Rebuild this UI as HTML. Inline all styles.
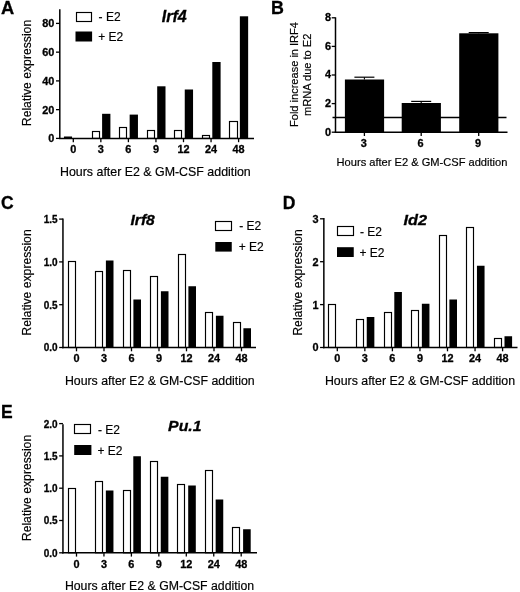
<!DOCTYPE html>
<html><head><meta charset="utf-8"><title>Figure</title>
<style>
html,body{margin:0;padding:0;background:#fff;}
svg{display:block;font-family:"Liberation Sans", Arial, Helvetica, sans-serif;}
text{fill:#000;}
</style></head>
<body>
<svg width="520" height="592" viewBox="0 0 520 592">
<rect x="0" y="0" width="520" height="592" fill="#fff"/>
<text x="1.00" y="13.80" font-size="17.5" text-anchor="start" font-weight="bold" font-style="normal" textLength="13.20" lengthAdjust="spacingAndGlyphs" stroke="#000" stroke-width="0.3">A</text>
<rect x="63.95" y="136.50" width="8.10" height="1.90" fill="#000"/>
<rect x="92.50" y="131.50" width="7.00" height="6.90" fill="#fff" stroke="#000" stroke-width="1.15"/>
<rect x="102.10" y="113.80" width="8.30" height="24.60" fill="#000"/>
<rect x="119.50" y="127.50" width="7.00" height="10.90" fill="#fff" stroke="#000" stroke-width="1.15"/>
<rect x="129.65" y="114.60" width="8.30" height="23.80" fill="#000"/>
<rect x="147.50" y="130.50" width="7.00" height="7.90" fill="#fff" stroke="#000" stroke-width="1.15"/>
<rect x="157.20" y="86.30" width="8.30" height="52.10" fill="#000"/>
<rect x="174.50" y="130.50" width="7.00" height="7.90" fill="#fff" stroke="#000" stroke-width="1.15"/>
<rect x="184.75" y="89.50" width="8.30" height="48.90" fill="#000"/>
<rect x="202.50" y="135.50" width="7.00" height="2.90" fill="#fff" stroke="#000" stroke-width="1.15"/>
<rect x="212.30" y="62.00" width="8.30" height="76.40" fill="#000"/>
<rect x="229.50" y="121.50" width="8.00" height="16.90" fill="#fff" stroke="#000" stroke-width="1.15"/>
<rect x="239.85" y="16.30" width="8.30" height="122.10" fill="#000"/>
<line x1="59.80" y1="9.35" x2="59.80" y2="139.10" stroke="#000" stroke-width="1.5"/>
<line x1="59.10" y1="138.40" x2="254.00" y2="138.40" stroke="#000" stroke-width="1.5"/>
<line x1="56.00" y1="138.40" x2="59.80" y2="138.40" stroke="#000" stroke-width="1.3"/>
<text x="54.40" y="142.30" font-size="10.9" text-anchor="end" font-weight="bold" font-style="normal" stroke="#000" stroke-width="0.3">0</text>
<line x1="56.00" y1="109.65" x2="59.80" y2="109.65" stroke="#000" stroke-width="1.3"/>
<text x="54.40" y="113.55" font-size="10.9" text-anchor="end" font-weight="bold" font-style="normal" stroke="#000" stroke-width="0.3">20</text>
<line x1="56.00" y1="80.90" x2="59.80" y2="80.90" stroke="#000" stroke-width="1.3"/>
<text x="54.40" y="84.80" font-size="10.9" text-anchor="end" font-weight="bold" font-style="normal" stroke="#000" stroke-width="0.3">40</text>
<line x1="56.00" y1="52.15" x2="59.80" y2="52.15" stroke="#000" stroke-width="1.3"/>
<text x="54.40" y="56.05" font-size="10.9" text-anchor="end" font-weight="bold" font-style="normal" stroke="#000" stroke-width="0.3">60</text>
<line x1="56.00" y1="23.40" x2="59.80" y2="23.40" stroke="#000" stroke-width="1.3"/>
<text x="54.40" y="27.30" font-size="10.9" text-anchor="end" font-weight="bold" font-style="normal" stroke="#000" stroke-width="0.3">80</text>
<line x1="73.30" y1="138.40" x2="73.30" y2="142.20" stroke="#000" stroke-width="1.3"/>
<text x="73.30" y="153.20" font-size="10.9" text-anchor="middle" font-weight="bold" font-style="normal" stroke="#000" stroke-width="0.3">0</text>
<line x1="100.85" y1="138.40" x2="100.85" y2="142.20" stroke="#000" stroke-width="1.3"/>
<text x="100.85" y="153.20" font-size="10.9" text-anchor="middle" font-weight="bold" font-style="normal" stroke="#000" stroke-width="0.3">3</text>
<line x1="128.40" y1="138.40" x2="128.40" y2="142.20" stroke="#000" stroke-width="1.3"/>
<text x="128.40" y="153.20" font-size="10.9" text-anchor="middle" font-weight="bold" font-style="normal" stroke="#000" stroke-width="0.3">6</text>
<line x1="155.95" y1="138.40" x2="155.95" y2="142.20" stroke="#000" stroke-width="1.3"/>
<text x="155.95" y="153.20" font-size="10.9" text-anchor="middle" font-weight="bold" font-style="normal" stroke="#000" stroke-width="0.3">9</text>
<line x1="183.50" y1="138.40" x2="183.50" y2="142.20" stroke="#000" stroke-width="1.3"/>
<text x="183.50" y="153.20" font-size="10.9" text-anchor="middle" font-weight="bold" font-style="normal" stroke="#000" stroke-width="0.3">12</text>
<line x1="211.05" y1="138.40" x2="211.05" y2="142.20" stroke="#000" stroke-width="1.3"/>
<text x="211.05" y="153.20" font-size="10.9" text-anchor="middle" font-weight="bold" font-style="normal" stroke="#000" stroke-width="0.3">24</text>
<line x1="238.60" y1="138.40" x2="238.60" y2="142.20" stroke="#000" stroke-width="1.3"/>
<text x="238.60" y="153.20" font-size="10.9" text-anchor="middle" font-weight="bold" font-style="normal" stroke="#000" stroke-width="0.3">48</text>
<text x="31.30" y="73.00" font-size="12.2" text-anchor="middle" font-weight="normal" font-style="normal" transform="rotate(-90 31.30 73.00)" stroke="#000" stroke-width="0.18">Relative expression</text>
<text x="60.00" y="176.20" font-size="12.4" text-anchor="start" font-weight="normal" font-style="normal" stroke="#000" stroke-width="0.18">Hours after E2 &amp; GM-CSF addition</text>
<text x="161.80" y="21.70" font-size="16" text-anchor="start" font-weight="bold" font-style="italic" textLength="25.00" lengthAdjust="spacingAndGlyphs" stroke="#000" stroke-width="0.3">Irf4</text>
<rect x="76.50" y="12.50" width="15.00" height="9.00" fill="#fff" stroke="#000" stroke-width="1.15"/>
<rect x="75.50" y="31.50" width="16.60" height="10.00" fill="#000"/>
<text x="98.60" y="21.20" font-size="12" text-anchor="start" font-weight="normal" font-style="normal" stroke="#000" stroke-width="0.18">- E2</text>
<text x="98.20" y="40.80" font-size="12" text-anchor="start" font-weight="normal" font-style="normal" stroke="#000" stroke-width="0.18">+ E2</text>
<text x="271.00" y="13.80" font-size="17.5" text-anchor="start" font-weight="bold" font-style="normal" textLength="12.90" lengthAdjust="spacingAndGlyphs" stroke="#000" stroke-width="0.3">B</text>
<rect x="344.90" y="79.50" width="39.20" height="52.70" fill="#000"/>
<line x1="364.40" y1="77.20" x2="364.40" y2="79.50" stroke="#000" stroke-width="1.1"/>
<line x1="354.40" y1="77.20" x2="374.40" y2="77.20" stroke="#000" stroke-width="1.2"/>
<rect x="401.70" y="103.00" width="39.20" height="29.20" fill="#000"/>
<line x1="421.20" y1="101.40" x2="421.20" y2="103.00" stroke="#000" stroke-width="1.1"/>
<line x1="411.20" y1="101.40" x2="431.20" y2="101.40" stroke="#000" stroke-width="1.2"/>
<rect x="459.20" y="33.30" width="39.20" height="98.90" fill="#000"/>
<line x1="478.70" y1="32.60" x2="478.70" y2="33.30" stroke="#000" stroke-width="1.1"/>
<line x1="468.70" y1="32.60" x2="488.70" y2="32.60" stroke="#000" stroke-width="1.2"/>
<line x1="335.50" y1="17.35" x2="335.50" y2="132.90" stroke="#000" stroke-width="1.5"/>
<line x1="334.80" y1="132.20" x2="507.50" y2="132.20" stroke="#000" stroke-width="1.5"/>
<line x1="331.70" y1="132.20" x2="335.50" y2="132.20" stroke="#000" stroke-width="1.3"/>
<text x="331.10" y="135.50" font-size="10.9" text-anchor="end" font-weight="bold" font-style="normal" stroke="#000" stroke-width="0.3">0</text>
<line x1="331.70" y1="103.60" x2="335.50" y2="103.60" stroke="#000" stroke-width="1.3"/>
<text x="331.10" y="106.90" font-size="10.9" text-anchor="end" font-weight="bold" font-style="normal" stroke="#000" stroke-width="0.3">2</text>
<line x1="331.70" y1="75.00" x2="335.50" y2="75.00" stroke="#000" stroke-width="1.3"/>
<text x="331.10" y="78.30" font-size="10.9" text-anchor="end" font-weight="bold" font-style="normal" stroke="#000" stroke-width="0.3">4</text>
<line x1="331.70" y1="46.40" x2="335.50" y2="46.40" stroke="#000" stroke-width="1.3"/>
<text x="331.10" y="49.70" font-size="10.9" text-anchor="end" font-weight="bold" font-style="normal" stroke="#000" stroke-width="0.3">6</text>
<line x1="331.70" y1="17.80" x2="335.50" y2="17.80" stroke="#000" stroke-width="1.3"/>
<text x="331.10" y="21.10" font-size="10.9" text-anchor="end" font-weight="bold" font-style="normal" stroke="#000" stroke-width="0.3">8</text>
<line x1="364.40" y1="132.20" x2="364.40" y2="136.00" stroke="#000" stroke-width="1.3"/>
<text x="363.70" y="147.00" font-size="10.9" text-anchor="middle" font-weight="bold" font-style="normal" stroke="#000" stroke-width="0.3">3</text>
<line x1="421.20" y1="132.20" x2="421.20" y2="136.00" stroke="#000" stroke-width="1.3"/>
<text x="420.50" y="147.00" font-size="10.9" text-anchor="middle" font-weight="bold" font-style="normal" stroke="#000" stroke-width="0.3">6</text>
<line x1="478.70" y1="132.20" x2="478.70" y2="136.00" stroke="#000" stroke-width="1.3"/>
<text x="478.00" y="147.00" font-size="10.9" text-anchor="middle" font-weight="bold" font-style="normal" stroke="#000" stroke-width="0.3">9</text>
<line x1="332.50" y1="117.45" x2="506.50" y2="117.45" stroke="#000" stroke-width="1.5"/>
<text x="298.10" y="74.50" font-size="11.05" text-anchor="middle" font-weight="normal" font-style="normal" transform="rotate(-90 298.10 74.50)" stroke="#000" stroke-width="0.18">Fold increase in IRF4</text>
<text x="310.90" y="74.80" font-size="11.05" text-anchor="middle" font-weight="normal" font-style="normal" transform="rotate(-90 310.90 74.80)" stroke="#000" stroke-width="0.18">mRNA due to E2</text>
<text x="336.60" y="166.10" font-size="11.1" text-anchor="start" font-weight="normal" font-style="normal" stroke="#000" stroke-width="0.18">Hours after E2 &amp; GM-CSF addition</text>
<text x="1.00" y="208.90" font-size="17.5" text-anchor="start" font-weight="bold" font-style="normal" stroke="#000" stroke-width="0.3">C</text>
<rect x="68.50" y="261.50" width="7.00" height="86.00" fill="#fff" stroke="#000" stroke-width="1.15"/>
<rect x="95.50" y="271.50" width="7.00" height="76.00" fill="#fff" stroke="#000" stroke-width="1.15"/>
<rect x="105.90" y="260.50" width="7.60" height="87.00" fill="#000"/>
<rect x="123.50" y="270.50" width="7.00" height="77.00" fill="#fff" stroke="#000" stroke-width="1.15"/>
<rect x="133.40" y="299.50" width="7.60" height="48.00" fill="#000"/>
<rect x="150.50" y="276.50" width="7.00" height="71.00" fill="#fff" stroke="#000" stroke-width="1.15"/>
<rect x="160.90" y="291.25" width="7.60" height="56.25" fill="#000"/>
<rect x="178.50" y="254.50" width="7.00" height="93.00" fill="#fff" stroke="#000" stroke-width="1.15"/>
<rect x="188.40" y="286.25" width="7.60" height="61.25" fill="#000"/>
<rect x="205.50" y="312.50" width="7.00" height="35.00" fill="#fff" stroke="#000" stroke-width="1.15"/>
<rect x="215.90" y="315.75" width="7.60" height="31.75" fill="#000"/>
<rect x="233.50" y="322.50" width="7.00" height="25.00" fill="#fff" stroke="#000" stroke-width="1.15"/>
<rect x="243.40" y="328.25" width="7.60" height="19.25" fill="#000"/>
<line x1="62.95" y1="218.60" x2="62.95" y2="348.20" stroke="#000" stroke-width="1.5"/>
<line x1="62.25" y1="347.50" x2="256.00" y2="347.50" stroke="#000" stroke-width="1.5"/>
<line x1="59.15" y1="347.50" x2="62.95" y2="347.50" stroke="#000" stroke-width="1.3"/>
<text x="43.65" y="351.40" font-size="10.8" text-anchor="start" font-weight="bold" font-style="normal" textLength="13.90" lengthAdjust="spacingAndGlyphs" stroke="#000" stroke-width="0.3">0.0</text>
<line x1="59.15" y1="304.70" x2="62.95" y2="304.70" stroke="#000" stroke-width="1.3"/>
<text x="43.65" y="308.60" font-size="10.8" text-anchor="start" font-weight="bold" font-style="normal" textLength="13.90" lengthAdjust="spacingAndGlyphs" stroke="#000" stroke-width="0.3">0.5</text>
<line x1="59.15" y1="261.90" x2="62.95" y2="261.90" stroke="#000" stroke-width="1.3"/>
<text x="43.65" y="265.80" font-size="10.8" text-anchor="start" font-weight="bold" font-style="normal" textLength="13.90" lengthAdjust="spacingAndGlyphs" stroke="#000" stroke-width="0.3">1.0</text>
<line x1="59.15" y1="219.10" x2="62.95" y2="219.10" stroke="#000" stroke-width="1.3"/>
<text x="43.65" y="223.00" font-size="10.8" text-anchor="start" font-weight="bold" font-style="normal" textLength="13.90" lengthAdjust="spacingAndGlyphs" stroke="#000" stroke-width="0.3">1.5</text>
<line x1="76.50" y1="347.50" x2="76.50" y2="351.30" stroke="#000" stroke-width="1.3"/>
<text x="76.50" y="362.30" font-size="10.9" text-anchor="middle" font-weight="bold" font-style="normal" stroke="#000" stroke-width="0.3">0</text>
<line x1="104.00" y1="347.50" x2="104.00" y2="351.30" stroke="#000" stroke-width="1.3"/>
<text x="104.00" y="362.30" font-size="10.9" text-anchor="middle" font-weight="bold" font-style="normal" stroke="#000" stroke-width="0.3">3</text>
<line x1="131.50" y1="347.50" x2="131.50" y2="351.30" stroke="#000" stroke-width="1.3"/>
<text x="131.50" y="362.30" font-size="10.9" text-anchor="middle" font-weight="bold" font-style="normal" stroke="#000" stroke-width="0.3">6</text>
<line x1="159.00" y1="347.50" x2="159.00" y2="351.30" stroke="#000" stroke-width="1.3"/>
<text x="159.00" y="362.30" font-size="10.9" text-anchor="middle" font-weight="bold" font-style="normal" stroke="#000" stroke-width="0.3">9</text>
<line x1="186.50" y1="347.50" x2="186.50" y2="351.30" stroke="#000" stroke-width="1.3"/>
<text x="186.50" y="362.30" font-size="10.9" text-anchor="middle" font-weight="bold" font-style="normal" stroke="#000" stroke-width="0.3">12</text>
<line x1="214.00" y1="347.50" x2="214.00" y2="351.30" stroke="#000" stroke-width="1.3"/>
<text x="214.00" y="362.30" font-size="10.9" text-anchor="middle" font-weight="bold" font-style="normal" stroke="#000" stroke-width="0.3">24</text>
<line x1="241.50" y1="347.50" x2="241.50" y2="351.30" stroke="#000" stroke-width="1.3"/>
<text x="241.50" y="362.30" font-size="10.9" text-anchor="middle" font-weight="bold" font-style="normal" stroke="#000" stroke-width="0.3">48</text>
<text x="31.30" y="282.50" font-size="12.2" text-anchor="middle" font-weight="normal" font-style="normal" transform="rotate(-90 31.30 282.50)" stroke="#000" stroke-width="0.18">Relative expression</text>
<text x="64.90" y="384.80" font-size="12.3" text-anchor="start" font-weight="normal" font-style="normal" textLength="189.80" lengthAdjust="spacingAndGlyphs" stroke="#000" stroke-width="0.18">Hours after E2 &amp; GM-CSF addition</text>
<text x="130.50" y="224.50" font-size="15.2" text-anchor="start" font-weight="bold" font-style="italic" textLength="24.30" lengthAdjust="spacingAndGlyphs" stroke="#000" stroke-width="0.3">Irf8</text>
<rect x="215.50" y="221.50" width="16.00" height="9.00" fill="#fff" stroke="#000" stroke-width="1.15"/>
<rect x="215.30" y="242.00" width="16.45" height="9.60" fill="#000"/>
<text x="239.25" y="230.30" font-size="12" text-anchor="start" font-weight="normal" font-style="normal" stroke="#000" stroke-width="0.18">- E2</text>
<text x="238.75" y="251.00" font-size="12" text-anchor="start" font-weight="normal" font-style="normal" stroke="#000" stroke-width="0.18">+ E2</text>
<text x="282.80" y="208.90" font-size="17.5" text-anchor="start" font-weight="bold" font-style="normal" stroke="#000" stroke-width="0.3">D</text>
<rect x="328.50" y="304.50" width="7.00" height="43.00" fill="#fff" stroke="#000" stroke-width="1.15"/>
<rect x="356.50" y="319.50" width="7.00" height="28.00" fill="#fff" stroke="#000" stroke-width="1.15"/>
<rect x="366.75" y="317.00" width="7.60" height="30.50" fill="#000"/>
<rect x="384.50" y="312.50" width="7.00" height="35.00" fill="#fff" stroke="#000" stroke-width="1.15"/>
<rect x="394.30" y="292.00" width="7.60" height="55.50" fill="#000"/>
<rect x="411.50" y="310.50" width="7.00" height="37.00" fill="#fff" stroke="#000" stroke-width="1.15"/>
<rect x="421.85" y="303.75" width="7.60" height="43.75" fill="#000"/>
<rect x="439.50" y="235.50" width="7.00" height="112.00" fill="#fff" stroke="#000" stroke-width="1.15"/>
<rect x="449.40" y="299.50" width="7.60" height="48.00" fill="#000"/>
<rect x="466.50" y="227.50" width="7.00" height="120.00" fill="#fff" stroke="#000" stroke-width="1.15"/>
<rect x="476.95" y="265.75" width="7.60" height="81.75" fill="#000"/>
<rect x="494.50" y="338.50" width="7.00" height="9.00" fill="#fff" stroke="#000" stroke-width="1.15"/>
<rect x="504.50" y="336.25" width="7.60" height="11.25" fill="#000"/>
<line x1="323.85" y1="218.10" x2="323.85" y2="348.20" stroke="#000" stroke-width="1.5"/>
<line x1="323.15" y1="347.50" x2="517.50" y2="347.50" stroke="#000" stroke-width="1.5"/>
<line x1="320.05" y1="347.50" x2="323.85" y2="347.50" stroke="#000" stroke-width="1.3"/>
<text x="318.45" y="351.40" font-size="10.9" text-anchor="end" font-weight="bold" font-style="normal" stroke="#000" stroke-width="0.3">0</text>
<line x1="320.05" y1="304.60" x2="323.85" y2="304.60" stroke="#000" stroke-width="1.3"/>
<text x="318.45" y="308.50" font-size="10.9" text-anchor="end" font-weight="bold" font-style="normal" stroke="#000" stroke-width="0.3">1</text>
<line x1="320.05" y1="261.70" x2="323.85" y2="261.70" stroke="#000" stroke-width="1.3"/>
<text x="318.45" y="265.60" font-size="10.9" text-anchor="end" font-weight="bold" font-style="normal" stroke="#000" stroke-width="0.3">2</text>
<line x1="320.05" y1="218.80" x2="323.85" y2="218.80" stroke="#000" stroke-width="1.3"/>
<text x="318.45" y="222.70" font-size="10.9" text-anchor="end" font-weight="bold" font-style="normal" stroke="#000" stroke-width="0.3">3</text>
<line x1="337.30" y1="347.50" x2="337.30" y2="351.30" stroke="#000" stroke-width="1.3"/>
<text x="337.30" y="362.30" font-size="10.9" text-anchor="middle" font-weight="bold" font-style="normal" stroke="#000" stroke-width="0.3">0</text>
<line x1="364.85" y1="347.50" x2="364.85" y2="351.30" stroke="#000" stroke-width="1.3"/>
<text x="364.85" y="362.30" font-size="10.9" text-anchor="middle" font-weight="bold" font-style="normal" stroke="#000" stroke-width="0.3">3</text>
<line x1="392.40" y1="347.50" x2="392.40" y2="351.30" stroke="#000" stroke-width="1.3"/>
<text x="392.40" y="362.30" font-size="10.9" text-anchor="middle" font-weight="bold" font-style="normal" stroke="#000" stroke-width="0.3">6</text>
<line x1="419.95" y1="347.50" x2="419.95" y2="351.30" stroke="#000" stroke-width="1.3"/>
<text x="419.95" y="362.30" font-size="10.9" text-anchor="middle" font-weight="bold" font-style="normal" stroke="#000" stroke-width="0.3">9</text>
<line x1="447.50" y1="347.50" x2="447.50" y2="351.30" stroke="#000" stroke-width="1.3"/>
<text x="447.50" y="362.30" font-size="10.9" text-anchor="middle" font-weight="bold" font-style="normal" stroke="#000" stroke-width="0.3">12</text>
<line x1="475.05" y1="347.50" x2="475.05" y2="351.30" stroke="#000" stroke-width="1.3"/>
<text x="475.05" y="362.30" font-size="10.9" text-anchor="middle" font-weight="bold" font-style="normal" stroke="#000" stroke-width="0.3">24</text>
<line x1="502.60" y1="347.50" x2="502.60" y2="351.30" stroke="#000" stroke-width="1.3"/>
<text x="502.60" y="362.30" font-size="10.9" text-anchor="middle" font-weight="bold" font-style="normal" stroke="#000" stroke-width="0.3">48</text>
<text x="302.30" y="282.50" font-size="12.2" text-anchor="middle" font-weight="normal" font-style="normal" transform="rotate(-90 302.30 282.50)" stroke="#000" stroke-width="0.18">Relative expression</text>
<text x="324.90" y="384.80" font-size="12.3" text-anchor="start" font-weight="normal" font-style="normal" textLength="190.20" lengthAdjust="spacingAndGlyphs" stroke="#000" stroke-width="0.18">Hours after E2 &amp; GM-CSF addition</text>
<text x="403.60" y="225.00" font-size="15.4" text-anchor="start" font-weight="bold" font-style="italic" textLength="23.50" lengthAdjust="spacingAndGlyphs" stroke="#000" stroke-width="0.3">Id2</text>
<rect x="337.50" y="226.50" width="16.00" height="9.00" fill="#fff" stroke="#000" stroke-width="1.15"/>
<rect x="337.00" y="247.20" width="16.75" height="9.80" fill="#000"/>
<text x="360.00" y="235.80" font-size="12" text-anchor="start" font-weight="normal" font-style="normal" stroke="#000" stroke-width="0.18">- E2</text>
<text x="359.50" y="257.00" font-size="12" text-anchor="start" font-weight="normal" font-style="normal" stroke="#000" stroke-width="0.18">+ E2</text>
<text x="1.00" y="417.70" font-size="17.5" text-anchor="start" font-weight="bold" font-style="normal" stroke="#000" stroke-width="0.3">E</text>
<rect x="68.50" y="488.50" width="7.00" height="64.30" fill="#fff" stroke="#000" stroke-width="1.15"/>
<rect x="95.50" y="481.50" width="7.00" height="71.30" fill="#fff" stroke="#000" stroke-width="1.15"/>
<rect x="105.85" y="490.50" width="7.60" height="62.30" fill="#000"/>
<rect x="123.50" y="490.50" width="7.00" height="62.30" fill="#fff" stroke="#000" stroke-width="1.15"/>
<rect x="133.30" y="456.25" width="7.60" height="96.55" fill="#000"/>
<rect x="150.50" y="461.50" width="7.00" height="91.30" fill="#fff" stroke="#000" stroke-width="1.15"/>
<rect x="160.75" y="476.75" width="7.60" height="76.05" fill="#000"/>
<rect x="177.50" y="484.50" width="7.00" height="68.30" fill="#fff" stroke="#000" stroke-width="1.15"/>
<rect x="188.20" y="485.50" width="7.60" height="67.30" fill="#000"/>
<rect x="205.50" y="470.50" width="7.00" height="82.30" fill="#fff" stroke="#000" stroke-width="1.15"/>
<rect x="215.65" y="499.50" width="7.60" height="53.30" fill="#000"/>
<rect x="232.50" y="527.50" width="7.00" height="25.30" fill="#fff" stroke="#000" stroke-width="1.15"/>
<rect x="243.10" y="529.25" width="7.60" height="23.55" fill="#000"/>
<line x1="62.95" y1="424.35" x2="62.95" y2="553.50" stroke="#000" stroke-width="1.5"/>
<line x1="62.25" y1="552.80" x2="257.00" y2="552.80" stroke="#000" stroke-width="1.5"/>
<line x1="59.15" y1="552.80" x2="62.95" y2="552.80" stroke="#000" stroke-width="1.3"/>
<text x="43.65" y="556.70" font-size="10.8" text-anchor="start" font-weight="bold" font-style="normal" textLength="13.90" lengthAdjust="spacingAndGlyphs" stroke="#000" stroke-width="0.3">0.0</text>
<line x1="59.15" y1="520.50" x2="62.95" y2="520.50" stroke="#000" stroke-width="1.3"/>
<text x="43.65" y="524.40" font-size="10.8" text-anchor="start" font-weight="bold" font-style="normal" textLength="13.90" lengthAdjust="spacingAndGlyphs" stroke="#000" stroke-width="0.3">0.5</text>
<line x1="59.15" y1="488.20" x2="62.95" y2="488.20" stroke="#000" stroke-width="1.3"/>
<text x="43.65" y="492.10" font-size="10.8" text-anchor="start" font-weight="bold" font-style="normal" textLength="13.90" lengthAdjust="spacingAndGlyphs" stroke="#000" stroke-width="0.3">1.0</text>
<line x1="59.15" y1="455.90" x2="62.95" y2="455.90" stroke="#000" stroke-width="1.3"/>
<text x="43.65" y="459.80" font-size="10.8" text-anchor="start" font-weight="bold" font-style="normal" textLength="13.90" lengthAdjust="spacingAndGlyphs" stroke="#000" stroke-width="0.3">1.5</text>
<line x1="59.15" y1="423.60" x2="62.95" y2="423.60" stroke="#000" stroke-width="1.3"/>
<text x="43.65" y="427.50" font-size="10.8" text-anchor="start" font-weight="bold" font-style="normal" textLength="13.90" lengthAdjust="spacingAndGlyphs" stroke="#000" stroke-width="0.3">2.0</text>
<line x1="76.50" y1="552.80" x2="76.50" y2="556.60" stroke="#000" stroke-width="1.3"/>
<text x="76.50" y="567.60" font-size="10.9" text-anchor="middle" font-weight="bold" font-style="normal" stroke="#000" stroke-width="0.3">0</text>
<line x1="103.95" y1="552.80" x2="103.95" y2="556.60" stroke="#000" stroke-width="1.3"/>
<text x="103.95" y="567.60" font-size="10.9" text-anchor="middle" font-weight="bold" font-style="normal" stroke="#000" stroke-width="0.3">3</text>
<line x1="131.40" y1="552.80" x2="131.40" y2="556.60" stroke="#000" stroke-width="1.3"/>
<text x="131.40" y="567.60" font-size="10.9" text-anchor="middle" font-weight="bold" font-style="normal" stroke="#000" stroke-width="0.3">6</text>
<line x1="158.85" y1="552.80" x2="158.85" y2="556.60" stroke="#000" stroke-width="1.3"/>
<text x="158.85" y="567.60" font-size="10.9" text-anchor="middle" font-weight="bold" font-style="normal" stroke="#000" stroke-width="0.3">9</text>
<line x1="186.30" y1="552.80" x2="186.30" y2="556.60" stroke="#000" stroke-width="1.3"/>
<text x="186.30" y="567.60" font-size="10.9" text-anchor="middle" font-weight="bold" font-style="normal" stroke="#000" stroke-width="0.3">12</text>
<line x1="213.75" y1="552.80" x2="213.75" y2="556.60" stroke="#000" stroke-width="1.3"/>
<text x="213.75" y="567.60" font-size="10.9" text-anchor="middle" font-weight="bold" font-style="normal" stroke="#000" stroke-width="0.3">24</text>
<line x1="241.20" y1="552.80" x2="241.20" y2="556.60" stroke="#000" stroke-width="1.3"/>
<text x="241.20" y="567.60" font-size="10.9" text-anchor="middle" font-weight="bold" font-style="normal" stroke="#000" stroke-width="0.3">48</text>
<text x="31.30" y="488.00" font-size="12.2" text-anchor="middle" font-weight="normal" font-style="normal" transform="rotate(-90 31.30 488.00)" stroke="#000" stroke-width="0.18">Relative expression</text>
<text x="64.90" y="590.00" font-size="12.3" text-anchor="start" font-weight="normal" font-style="normal" textLength="189.20" lengthAdjust="spacingAndGlyphs" stroke="#000" stroke-width="0.18">Hours after E2 &amp; GM-CSF addition</text>
<text x="168.05" y="430.90" font-size="14.8" text-anchor="start" font-weight="bold" font-style="italic" textLength="33.50" lengthAdjust="spacingAndGlyphs" stroke="#000" stroke-width="0.3">Pu.1</text>
<rect x="74.50" y="424.50" width="16.00" height="9.00" fill="#fff" stroke="#000" stroke-width="1.15"/>
<rect x="74.20" y="445.00" width="17.20" height="10.00" fill="#000"/>
<text x="98.00" y="434.00" font-size="12" text-anchor="start" font-weight="normal" font-style="normal" stroke="#000" stroke-width="0.18">- E2</text>
<text x="97.50" y="455.00" font-size="12" text-anchor="start" font-weight="normal" font-style="normal" stroke="#000" stroke-width="0.18">+ E2</text>
</svg>
</body></html>
